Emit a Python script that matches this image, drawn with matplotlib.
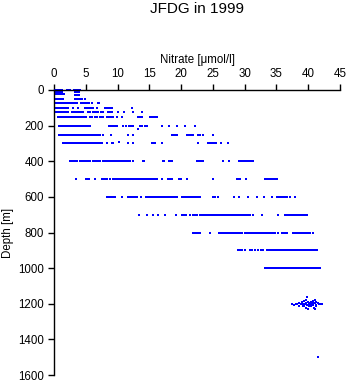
import matplotlib
matplotlib.use('Agg')
import matplotlib.pyplot as plt

plt.rcParams['font.family'] = ['Liberation Sans', 'DejaVu Sans']

# surface layer (0-30 m), x = nitrate, d = depth
surf_x = [0.1, 0.3, 0.5, 0.7, 0.9, 1.1, 1.3,
          0.1, 0.4, 0.6, 0.8, 1.0, 1.2,
          0.1, 0.3, 0.5, 0.8, 1.0, 1.3,
          0.2, 0.4, 0.7, 0.9, 1.2, 1.5,
          2.0, 2.3, 2.5,
          3.2, 3.5, 3.8, 4.1,
          3.3, 3.6, 3.9,
          3.3, 3.6, 4.0]
surf_d = [0, 0, 0, 0, 0, 0, 0,
          5, 5, 5, 5, 5, 5,
          10, 10, 10, 10, 10, 10,
          25, 25, 25, 25, 25, 25,
          2, 2, 2,
          0, 0, 0, 0,
          10, 10, 10,
          28, 28, 28]

b50 = [0.1, 0.35, 0.6, 0.85, 1.1, 1.4, 3.3, 3.6, 3.9, 4.2, 4.4, 4.8]
b75 = [0.1, 0.35, 0.6, 0.85, 1.1, 1.35, 1.6, 1.85, 2.1, 2.4, 2.7, 3.0, 3.3, 3.6,
       4.2, 4.5, 4.9, 5.2, 5.5, 6.0, 6.9, 7.1]
b100 = [0.1, 0.35, 0.6, 0.85, 1.1, 1.35, 1.6, 1.9, 2.2, 3.0, 3.8, 4.9, 5.2, 5.5,
        5.8, 6.1, 6.8, 8.0, 8.3, 8.6, 8.8, 9.1, 12.3]
b125 = [0.1, 0.35, 0.6, 0.85, 1.1, 1.35, 1.6, 1.9, 2.2, 2.8, 3.1, 3.4, 3.7, 4.0,
        4.3, 4.6, 5.3, 5.7, 6.1, 6.4, 6.7, 7.0, 7.4, 7.7, 8.5, 8.8, 9.1, 10.1,
        11.0, 12.4, 13.8]
b150 = [0.6, 0.9, 1.15, 1.4, 1.65, 1.9, 2.15, 2.4, 2.65, 2.9, 3.15, 3.4, 3.65,
        3.9, 4.15, 4.4, 4.7, 5.0, 5.7, 6.0, 6.4, 6.7, 7.2, 7.5, 7.7, 8.3, 8.6,
        8.9, 9.3, 9.9, 10.7, 13.2, 13.5, 13.8, 15.1, 15.4, 15.7, 16.0, 16.2]
b200 = [0.8, 1.05, 1.3, 1.55, 1.8, 2.05, 2.3, 2.55, 2.8, 3.05, 3.3, 3.55, 3.8,
        4.05, 4.3, 4.55, 4.8, 5.05, 5.3, 5.6, 8.7, 9.0, 9.3, 9.6, 9.9, 10.9,
        11.3, 11.8, 12.1, 12.4, 13.5, 13.8, 14.3, 14.6, 17.0, 18.1, 19.4, 20.6,
        22.2]
b250 = [0.8, 1.0, 1.3, 1.5, 1.8, 2.1, 2.3, 2.6, 2.8, 3.1, 3.3, 3.6, 3.9, 4.1,
        4.3, 4.6, 4.8, 5.1, 5.4, 5.6, 5.9, 6.1, 6.4, 6.7, 6.9, 7.2, 7.7, 9.0,
        11.6, 12.4, 18.6, 18.9, 19.2, 19.4, 20.9, 21.2, 21.5, 21.9, 22.7, 23.0,
        23.4, 25.0]
b300 = [1.4, 1.6, 1.9, 2.1, 2.4, 2.6, 2.9, 3.1, 3.4, 3.7, 3.9, 4.2, 4.4, 4.7,
        4.9, 5.2, 5.4, 5.7, 6.0, 6.2, 6.5, 6.8, 7.0, 7.3, 7.6, 8.3, 9.1, 9.3,
        11.6, 12.4, 15.4, 15.7, 15.9, 17.0, 22.7, 24.2, 24.5, 24.7, 25.0, 25.3,
        25.5, 26.3, 27.4]
b400 = [2.5, 2.8, 3.1, 3.4, 3.6, 4.1, 4.4, 4.7, 5.0, 5.2, 5.5, 5.7, 6.1, 6.4,
        6.7, 7.0, 7.3, 7.7, 8.0, 8.3, 8.5, 8.8, 9.0, 9.3, 9.6, 9.8, 10.1, 10.3,
        10.6, 10.9, 11.1, 11.4, 11.7, 12.0, 12.4, 14.0, 14.2, 17.1, 17.3, 18.1,
        18.4, 18.6, 22.5, 22.8, 23.1, 23.4, 26.6, 27.5, 29.1, 29.4, 29.7, 30.0,
        30.4, 30.7, 31.0, 31.3]
b500 = [3.5, 5.0, 5.3, 5.5, 6.4, 7.5, 7.8, 8.1, 8.4, 8.8, 9.3, 9.6, 9.8, 10.1,
        10.4, 10.7, 10.9, 11.2, 11.5, 11.7, 12.0, 12.3, 12.5, 12.8, 13.1, 13.3,
        13.6, 13.9, 14.1, 14.4, 14.7, 14.9, 15.2, 15.5, 15.7, 16.0, 16.2, 17.0,
        17.9, 18.2, 18.5, 19.7, 20.0, 20.9, 25.0, 28.8, 29.0, 29.3, 30.2, 33.2,
        33.5, 33.8, 34.1, 34.4, 34.7, 35.1]
b600 = [8.3, 8.6, 8.9, 9.3, 9.6, 10.7, 11.6, 11.9, 12.2, 12.5, 12.8, 13.1, 13.7,
        14.5, 14.8, 15.0, 15.3, 15.6, 15.8, 16.1, 16.4, 16.6, 16.9, 17.2, 17.4,
        17.7, 18.0, 18.2, 18.5, 18.8, 19.0, 19.4, 20.1, 20.4, 20.6, 20.9, 21.2,
        21.4, 21.7, 22.0, 22.2, 22.5, 22.8, 23.0, 25.0, 25.4, 25.8, 28.4, 29.1,
        30.5, 31.9, 33.0, 34.3, 35.1, 35.4, 35.6, 35.9, 36.2, 36.4, 36.7, 37.1,
        37.9]
b700 = [13.4, 14.6, 15.6, 16.4, 17.5, 19.2, 20.1, 20.4, 20.8, 21.4, 21.9, 22.2,
        22.5, 23.0, 23.3, 23.6, 23.9, 24.1, 24.4, 24.7, 25.0, 25.3, 25.6, 25.8,
        26.1, 26.4, 26.6, 26.9, 27.2, 27.4, 27.7, 28.0, 28.2, 28.5, 28.8, 29.0,
        29.3, 29.6, 29.8, 30.1, 30.4, 30.6, 30.9, 31.3, 32.7, 35.2, 36.3, 36.6,
        36.8, 37.1, 37.4, 37.6, 37.9, 38.2, 38.4, 38.7, 39.0, 39.2, 39.5, 39.8]
b800 = [21.9, 22.2, 22.5, 22.8, 23.0, 24.5, 26.0, 26.3, 26.5, 26.8, 27.1, 27.3,
        27.6, 27.9, 28.1, 28.4, 28.7, 28.9, 29.2, 29.6, 30.0, 30.3, 30.5, 30.8,
        31.1, 31.3, 31.6, 31.9, 32.1, 32.4, 32.7, 32.9, 33.2, 33.5, 33.7, 34.0,
        34.3, 34.5, 34.8, 35.2, 35.9, 36.2, 36.5, 36.7, 37.6, 37.9, 38.1, 38.4,
        38.7, 38.9, 39.2, 39.5, 39.7, 40.0, 40.3, 40.7]
b900 = [29.0, 29.3, 29.6, 30.0, 30.8, 31.2, 31.6, 32.1, 32.5, 32.9, 33.5, 33.8,
        34.0, 34.3, 34.6, 34.8, 35.1, 35.4, 35.6, 35.9, 36.2, 36.4, 36.7, 37.0,
        37.2, 37.5, 37.8, 38.0, 38.3, 38.6, 38.8, 39.1, 39.4, 39.6, 39.9, 40.2,
        40.4, 40.7, 41.0, 41.4]
b1000 = [33.2, 33.5, 33.7, 34.0, 34.3, 34.5, 34.8, 35.1, 35.3, 35.6, 35.9, 36.1,
         36.4, 36.7, 36.9, 37.2, 37.5, 37.7, 38.0, 38.3, 38.5, 38.8, 39.1, 39.3,
         39.6, 39.9, 40.1, 40.4, 40.7, 40.9, 41.2, 41.5, 41.7, 41.9]
b1200_x = [37.4, 37.7, 38.0, 38.3, 38.5, 38.8, 39.0, 39.1, 39.3, 39.4, 39.5,
           39.6, 39.7, 39.8, 39.8, 39.9, 40.0, 40.1, 40.2, 40.3, 40.4, 40.5,
           40.6, 40.7, 40.8, 40.9, 41.0, 41.0, 41.1, 41.2, 41.3, 41.5, 41.7,
           41.9, 42.2, 39.2, 39.6, 40.0, 40.4, 40.8, 41.2, 38.6]
b1200_d = [1203, 1205, 1200, 1203, 1195, 1200, 1190, 1210, 1185, 1215, 1200,
           1178, 1225, 1161, 1205, 1190, 1230, 1200, 1212, 1195, 1205, 1215,
           1200, 1183, 1208, 1225, 1180, 1232, 1198, 1215, 1205, 1195, 1200,
           1203, 1200, 1200, 1195, 1208, 1190, 1198, 1190, 1210]
b1500 = [41.5]

band_depths = [50, 75, 100, 125, 150, 200, 250, 300, 400, 500, 600, 700, 800,
               900, 1000, 1500]
band_values = [b50, b75, b100, b125, b150, b200, b250, b300, b400, b500, b600,
               b700, b800, b900, b1000, b1500]

fig = plt.figure(figsize=(3.48, 3.84), dpi=100)
ax = fig.add_axes([54 / 348, 9 / 384, 286 / 348, 285 / 384])

blue = '#0000ff'
mk = dict(linestyle='none', marker='s', ms=1.9, mew=0, color=blue, clip_on=False)

ax.plot(surf_x, surf_d, **mk)
for dep, vals in zip(band_depths, band_values):
    ax.plot(vals, [dep] * len(vals), **mk)
ax.plot([13.2], [220], **mk)
ax.plot([10.2], [290], **mk)
ax.plot(b1200_x, b1200_d, **mk)

ax.set_xlim(0, 45)
ax.set_ylim(1600, 0)
ax.set_xticks(range(0, 46, 5))
ax.set_yticks(range(0, 1601, 200))

ax.xaxis.tick_top()
ax.xaxis.set_label_position('top')
for s in ['right', 'bottom']:
    ax.spines[s].set_visible(False)
for s in ['left', 'top']:
    ax.spines[s].set_linewidth(1.0)
ax.tick_params(direction='out', length=4, width=1.0, labelsize=8.3, pad=3)

ax.set_xlabel('Nitrate [\u03bcmol/l]', fontsize=8.3, labelpad=4)
ax.set_ylabel('Depth [m]', fontsize=8.3, labelpad=3)

fig.text(0.566, 1 - 9 / 384, 'JFDG in 1999', ha='center', va='center', fontsize=11)

fig.savefig('out.png', dpi=100)
